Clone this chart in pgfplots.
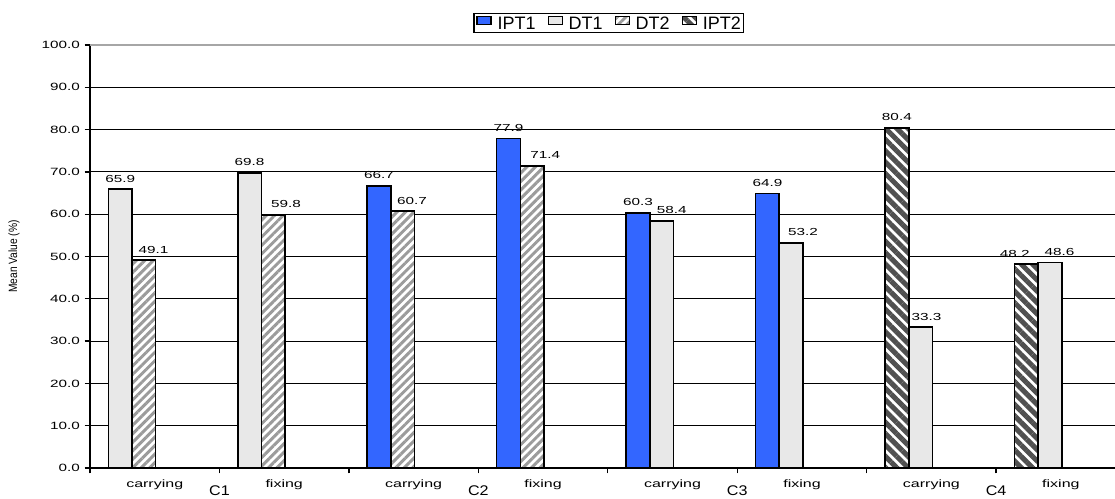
\documentclass[border=0pt]{standalone}
\usepackage{fontspec}
\setmainfont{Liberation Sans}
\usepackage{pgfplots}
\usepackage{pgfplotstable}
\pgfplotsset{compat=1.18}
\usetikzlibrary{patterns.meta}
\definecolor{iptone}{RGB}{51,102,255}
\definecolor{dtone}{RGB}{232,232,232}
\definecolor{dttwo}{RGB}{155,155,155}
\definecolor{ipttwo}{RGB}{80,80,80}
\newcommand{\hs}[2][1.45]{\scalebox{#1}[1]{#2}}
\pgfplotsset{mylegend/.style={legend image code/.code={\draw[##1, line width=0.8pt] (0pt,-1pt) rectangle (10.5pt,5pt);}}}
\pgfplotstableread{
x y dx
2.233 66.7 0
3.233 77.9 0
4.233 60.3 0
5.233 64.9 0
}\iptonetab
\pgfplotstableread{
x y dx
0.233 65.9 0
1.233 69.8 0
4.416 58.4 7.5
5.416 53.2 9
6.416 33.3 4.5
7.416 48.6 7.1
}\dtonetab
\pgfplotstableread{
x y dx
0.416 49.1 7.2
1.416 59.8 9.5
2.416 60.7 7
3.416 71.4 9.7
}\dttwotab
\pgfplotstableread{
x y dx
6.233 80.4 0
7.233 48.2 -8.6
}\ipttwotab
\begin{document}
\begin{tikzpicture}[x=1pt,y=1pt]
\useasboundingbox (-67.5,-23) rectangle (768.75,351);
\begin{axis}[
  at={(0,0)}, anchor=south west,
  width=768.75pt, height=317.25pt, scale only axis,
  xmin=0, xmax=7.918, ymin=0, ymax=100,
  axis x line*=bottom, axis y line*=left,
  axis line style={line width=1.3pt},
  ybar, bar width=0.183,
  /pgf/number format/assume math mode=true,
  xtick={0,1,2,3,4,5,6,7}, xticklabels={},
  ytick={0,10,20,30,40,50,60,70,80,90},
  extra y ticks={100}, extra y tick labels={\hs{100.0}},
  extra y tick style={grid style={gray!70,line width=1pt}},
  yticklabel={\hs{\pgfmathprintnumber[fixed,fixed zerofill,precision=1]{\tick}}},
  yticklabel style={font=\fontsize{7.9}{9}\selectfont},
  tick align=outside, major tick length=4pt,
  tick style={black, line width=1pt},
  ymajorgrids, grid style={black, line width=0.8pt},
  visualization depends on={\thisrow{dx} \as \labdx},
  nodes near coords={\hs[1.5]{\pgfmathprintnumber[fixed,fixed zerofill,precision=1]{\pgfplotspointmeta}}},
  every node near coord/.append style={font=\fontsize{7.65}{9}\selectfont, anchor=base, yshift=5.3pt, xshift=\labdx*1pt, inner sep=0pt},
  legend columns=4,
  legend style={at={(0.506,1)}, anchor=south, yshift=8.8pt, draw=black, line width=1.3pt,
    font=\fontsize{13.5}{14}\selectfont, inner sep=2pt,
    nodes={inner sep=0pt, text height=9.7pt, text depth=0pt},
    /tikz/every odd column/.append style={column sep=4.5pt},
    /tikz/every even column/.append style={column sep=9pt}},
  clip=false,
]
\addplot[bar shift=0pt, fill=iptone, draw=black, line width=1.2pt, mylegend]
  table[x=x,y=y] {\iptonetab};
\addlegendentry{IPT1}
\addplot[bar shift=0pt, fill=dtone, draw=black, line width=1.2pt, mylegend]
  table[x=x,y=y] {\dtonetab};
\addlegendentry{DT1}
\addplot[bar shift=0pt, fill=white, draw=black, line width=1.2pt, mylegend,
  postaction={pattern={Lines[angle=45,distance=4.5pt,line width=2.2pt]}, pattern color=dttwo}]
  table[x=x,y=y] {\dttwotab};
\addlegendentry{DT2}
\addplot[bar shift=0pt, fill=white, draw=black, line width=1.2pt, mylegend,
  postaction={pattern={Lines[angle=-45,distance=6pt,line width=3.8pt]}, pattern color=ipttwo}]
  table[x=x,y=y] {\ipttwotab};
\addlegendentry{IPT2}
\foreach \x/\t in {0.5/carrying,1.5/fixing,2.5/carrying,3.5/fixing,4.5/carrying,5.5/fixing,6.5/carrying,7.5/fixing}{
  \edef\tmp{\noexpand\node[anchor=base, font=\noexpand\fontsize{8}{9}\noexpand\selectfont, inner sep=0pt] at ([yshift=-15pt]axis cs:\x,0) {\noexpand\hs[1.5]{\t}};}\tmp
}
\foreach \x/\t in {1/C1,3/C2,5/C3,7/C4}{
  \edef\tmp{\noexpand\node[anchor=base, font=\noexpand\fontsize{10.5}{12}\noexpand\selectfont, inner sep=0pt] at ([yshift=-21pt]axis cs:\x,0) {\noexpand\hs[1.15]{\t}};}\tmp
}
\node[rotate=90, font=\fontsize{9}{10}\selectfont, inner sep=0pt] at ([xshift=-57pt]axis description cs:0,0.5) {\hs[0.85]{Mean Value (\%)}};
\end{axis}
\end{tikzpicture}
\end{document}
